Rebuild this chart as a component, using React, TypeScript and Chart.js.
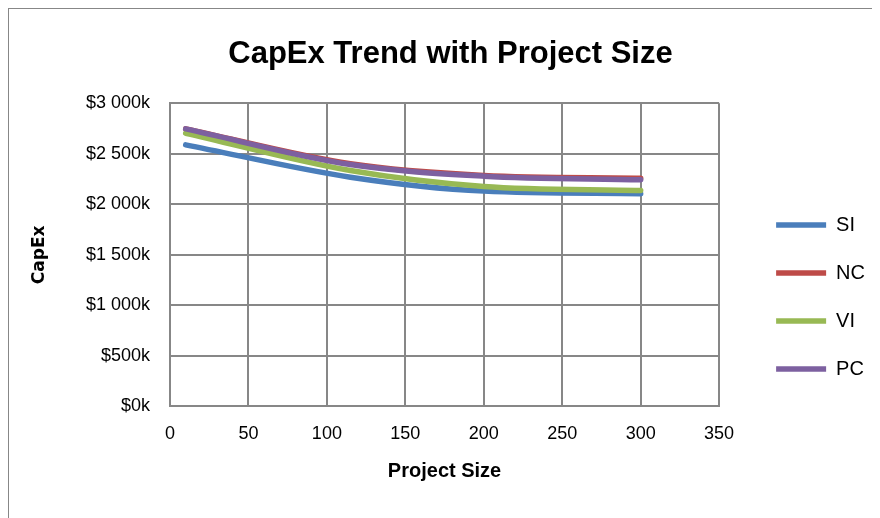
import React, { useEffect, useRef } from 'react';
import { Chart, registerables } from 'chart.js';

Chart.register(...registerables);

// Data (CapEx in $k)
const projectSizes = [10, 115, 200, 300];
const seriesNames = ['SI', 'NC', 'VI', 'PC'];
const siValues = [2588, 2268, 2130, 2104];
const ncValues = [2746, 2400, 2285, 2258];
const viValues = [2703, 2334, 2176, 2136];
const pcValues = [2746, 2393, 2278, 2242];
const seriesColors = ['#4A7EBB', '#BE4B48', '#98B954', '#7D60A0'];
const seriesOrder = [4, 3, 2, 1];

const xMin = 0;
const xMax = 350;
const xStep = 50;
const yMin = 0;
const yMax = 3000;
const yStep = 500;

const chartTitle = 'CapEx Trend with Project Size';
const xTitle = 'Project Size';
const yTitle = 'CapEx';

function formatK(v: number): string {
  const n = Math.round(v);
  let s: string;
  if (n >= 1000) {
    s = Math.floor(n / 1000) + ' ' + String(n % 1000).padStart(3, '0');
  } else {
    s = String(n);
  }
  return '$' + s + 'k';
}

const gridColor = '#878787';
const sans = "'Liberation Sans', Arial, sans-serif";

export default function App() {
  const ref = useRef<HTMLCanvasElement | null>(null);

  useEffect(() => {
    if (!ref.current) return;
    const allValues = [siValues, ncValues, viValues, pcValues];
    const chart = new Chart(ref.current, {
      type: 'line',
      data: {
        datasets: seriesNames.map((name, i) => ({
          label: name,
          data: projectSizes.map((x, j) => ({ x, y: allValues[i][j] })),
          borderColor: seriesColors[i],
          backgroundColor: seriesColors[i],
          borderWidth: 5.5,
          borderCapStyle: 'round' as const,
          borderJoinStyle: 'round' as const,
          pointRadius: 0,
          pointHoverRadius: 0,
          cubicInterpolationMode: 'monotone' as const,
          fill: false,
          order: seriesOrder[i],
          yAxisID: 'y',
        })),
      },
      options: {
        responsive: false,
        animation: false,
        devicePixelRatio: 1,
        layout: { padding: { top: 0, right: 5, bottom: 0, left: 18 } },
        plugins: {
          title: {
            display: true,
            text: chartTitle,
            color: '#000',
            font: { family: sans, size: 31, weight: 'bold' },
            padding: { top: 28, bottom: 30 },
          },
          legend: {
            display: true,
            position: 'right',
            align: 'center',
            title: { display: true, text: '', font: { size: 20 }, padding: { top: 44, bottom: 0 } },
            labels: {
              usePointStyle: true,
              pointStyle: 'line',
              pointStyleWidth: 50,
              padding: 28,
              color: '#000',
              font: { family: sans, size: 20 },
              sort: (a: any, b: any) => a.datasetIndex - b.datasetIndex,
            },
          },
          tooltip: { enabled: false },
        },
        scales: {
          x: {
            type: 'linear',
            position: 'bottom',
            min: xMin,
            max: xMax,
            ticks: {
              stepSize: xStep,
              padding: 17,
              color: '#000',
              font: { family: sans, size: 18 },
              maxRotation: 0,
            },
            grid: { color: gridColor, lineWidth: 2, drawTicks: false },
            border: { color: gridColor, width: 2 },
            title: {
              display: true,
              text: xTitle,
              color: '#000',
              font: { family: sans, size: 20, weight: 'bold' },
              padding: { top: -3, bottom: 35 },
            },
          },
          y: {
            type: 'linear',
            position: 'left',
            min: yMin,
            max: yMax,
            ticks: {
              stepSize: yStep,
              padding: 20,
              color: '#000',
              font: { family: sans, size: 18 },
              callback: (v: any) => formatK(Number(v)),
            },
            grid: { color: gridColor, lineWidth: 2, drawTicks: false },
            border: { color: gridColor, width: 2 },
            title: {
              display: true,
              text: yTitle,
              color: '#000',
              font: { family: "'DejaVu Sans', sans-serif", size: 17, weight: 'bold' },
              padding: { top: 3, bottom: 0 },
            },
            afterFit: (s: any) => {
              s.width = 144;
            },
          },
          spacer: {
            type: 'linear',
            position: 'right',
            display: true,
            ticks: { display: false },
            grid: { display: false, drawTicks: false },
            border: { display: false },
            afterFit: (s: any) => {
              s.width = 29;
            },
          },
        },
      } as any,
    });
    return () => chart.destroy();
  }, []);

  return (
    <div style={{ position: 'relative', width: 872, height: 510 }}>
      <canvas ref={ref} width={872} height={510} style={{ display: 'block', width: 872, height: 510 }} />
      <div
        style={{
          position: 'absolute',
          left: 0,
          top: 0,
          width: 900,
          height: 530,
          borderLeft: '1px solid #878787',
          borderTop: '1px solid #878787',
          pointerEvents: 'none',
          boxSizing: 'border-box',
        }}
      />
    </div>
  );
}
